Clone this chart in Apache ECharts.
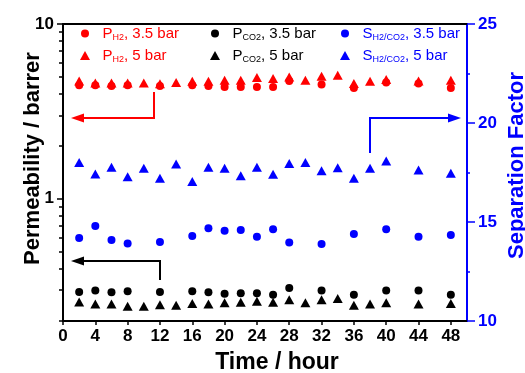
<!DOCTYPE html>
<html>
<head>
<meta charset="utf-8">
<script src="https://cdn.jsdelivr.net/npm/echarts@6/dist/echarts.min.js"></script>
<style>
  html, body { margin: 0; padding: 0; background: #fff; }
  #main { width: 525px; height: 373px; }
</style>
</head>
<body>
<div id="main"></div>
<script>
// time points (hours)
const timesLow = [2, 4, 6, 8, 12, 16, 18, 20, 22, 24, 26, 28, 32, 36, 40, 44, 48];
const timesHigh = [2, 4, 6, 8, 10, 12, 14, 16, 18, 20, 22, 24, 26, 28, 30, 32, 34, 36, 38, 40, 44, 48];

// permeability, barrer
const pH2Low = [4.46, 4.46, 4.42, 4.46, 4.42, 4.46, 4.42, 4.36, 4.36, 4.36, 4.36, 4.72, 4.50, 4.30, 4.62, 4.56, 4.30];
const pH2High = [4.72, 4.60, 4.60, 4.60, 4.60, 4.55, 4.62, 4.70, 4.70, 4.77, 4.77, 4.94, 4.87, 4.98, 4.77, 5.02, 5.09, 4.56, 4.70, 4.81, 4.72, 4.77];
const pCO2Low = [0.293, 0.299, 0.292, 0.296, 0.293, 0.296, 0.292, 0.286, 0.288, 0.288, 0.283, 0.309, 0.299, 0.283, 0.299, 0.299, 0.283];
const pCO2High = [0.257, 0.250, 0.250, 0.243, 0.243, 0.248, 0.246, 0.252, 0.250, 0.254, 0.256, 0.259, 0.256, 0.265, 0.254, 0.265, 0.269, 0.246, 0.250, 0.254, 0.250, 0.252];

// separation factor
const sepLow = [14.19, 14.80, 14.09, 13.92, 13.99, 14.29, 14.68, 14.56, 14.60, 14.26, 14.63, 13.97, 13.89, 14.39, 14.63, 14.26, 14.34];
const sepHigh = [18.00, 17.42, 17.76, 17.29, 17.71, 17.21, 17.93, 17.04, 17.76, 17.71, 17.34, 17.76, 17.41, 17.96, 18.00, 17.59, 17.74, 17.21, 17.71, 18.08, 17.63, 17.46];

// axis ticks
const permLabels = [1, 10];
const permMinorTicks = [0.2, 0.3, 0.4, 0.5, 0.6, 0.7, 0.8, 0.9, 2, 3, 4, 5, 6, 7, 8, 9];

const RED = '#ff0000';
const BLUE = '#0000ff';
const BLACK = '#000000';
const FONT = '"Liberation Sans", Arial, sans-serif';

function pair(xs, ys) {
  return xs.map(function (x, i) { return [x, ys[i]]; });
}

// one legend per entry so the 2x3 layout lines up like the original
function legendFor(name, main, sub, tail, color, isTriangle, column, row) {
  const w = isTriangle ? 10 : 8;
  const h = isTriangle ? 9 : 8;
  const markerX = [85, 215, 345][column];
  const centerY = [35, 57][row];
  return {
    data: [name],
    left: markerX - w / 2,
    top: centerY - 9,
    padding: 0,
    itemWidth: w,
    itemHeight: h,
    selectedMode: false,
    formatter: function () {
      return '{g|}{m|' + main + '}{s|' + sub + '}{m|' + tail + '}';
    },
    textStyle: {
      rich: {
        g: { width: 12.5 - w / 2 },
        m: { fontSize: 15, color: color, lineHeight: 18, fontFamily: FONT },
        s: { fontSize: 9, color: color, lineHeight: 8, verticalAlign: 'bottom', fontFamily: FONT }
      }
    }
  };
}

const chart = echarts.init(document.getElementById('main'));

const option = {
  backgroundColor: '#ffffff',
  animation: false,
  textStyle: { fontFamily: FONT },
  grid: { left: 63, right: 58, top: 24, bottom: 52, outerBoundsMode: 'none', containLabel: false },
  legend: [
    legendFor('pH2Low', 'P', 'H2', ', 3.5 bar', RED, false, 0, 0),
    legendFor('pH2High', 'P', 'H2', ', 5 bar', RED, true, 0, 1),
    legendFor('pCO2Low', 'P', 'CO2', ', 3.5 bar', BLACK, false, 1, 0),
    legendFor('pCO2High', 'P', 'CO2', ', 5 bar', BLACK, true, 1, 1),
    legendFor('sepLow', 'S', 'H2/CO2', ', 3.5 bar', BLUE, false, 2, 0),
    legendFor('sepHigh', 'S', 'H2/CO2', ', 5 bar', BLUE, true, 2, 1)
  ],
  xAxis: [
    {
      type: 'value',
      min: 0,
      max: 50,
      interval: 4,
      name: 'Time / hour',
      nameLocation: 'middle',
      nameGap: 30,
      nameMoveOverlap: false,
      nameTextStyle: { fontSize: 23, fontWeight: 'bold', color: BLACK, padding: [0, 0, 0, 24] },
      axisLine: { lineStyle: { color: BLACK, width: 2 } },
      axisTick: { length: 4, lineStyle: { color: BLACK, width: 1.5 } },
      axisLabel: { fontSize: 17, fontWeight: 'bold', color: BLACK, margin: 7, showMaxLabel: false },
      splitLine: { show: false }
    },
    {
      type: 'value',
      position: 'top',
      min: 0,
      max: 50,
      axisLine: { show: true, lineStyle: { color: BLACK, width: 2 } },
      axisTick: { show: false },
      axisLabel: { show: false },
      splitLine: { show: false }
    }
  ],
  yAxis: [
    {
      type: 'log',
      logBase: 10,
      min: 0.2,
      max: 10,
      position: 'left',
      name: 'Permeability / barrer',
      nameLocation: 'middle',
      nameGap: 19,
      nameMoveOverlap: false,
      nameTextStyle: { fontSize: 22, fontWeight: 'bold', color: BLACK, padding: [0, 0, 0, 28] },
      axisLine: { show: true, lineStyle: { color: BLACK, width: 2 } },
      axisTick: { length: 6, customValues: permLabels, lineStyle: { color: BLACK, width: 1.5 } },
      axisLabel: { fontSize: 17, fontWeight: 'bold', color: BLACK, margin: 9, customValues: permLabels },
      splitLine: { show: false }
    },
    {
      type: 'log',
      logBase: 10,
      min: 0.2,
      max: 10,
      position: 'left',
      axisLine: { show: false },
      axisTick: { show: true, length: 4, customValues: permMinorTicks, lineStyle: { color: BLACK, width: 1.5 } },
      axisLabel: { show: false },
      splitLine: { show: false }
    },
    {
      type: 'value',
      min: 10,
      max: 25,
      interval: 5,
      position: 'right',
      name: 'Separation Factor',
      nameLocation: 'middle',
      nameGap: 39,
      nameMoveOverlap: false,
      nameTextStyle: { fontSize: 22, fontWeight: 'bold', color: BLUE, padding: [0, 0, 0, 14] },
      axisLine: { show: true, lineStyle: { color: BLUE, width: 2 } },
      axisTick: { length: 8, lineStyle: { color: BLUE, width: 1.5 } },
      minorTick: { show: true, splitNumber: 2, length: 3, lineStyle: { color: BLUE, width: 1.5 } },
      axisLabel: { fontSize: 17, fontWeight: 'bold', color: BLUE, margin: 11 },
      splitLine: { show: false }
    }
  ],
  series: [
    { name: 'pH2Low', type: 'scatter', yAxisIndex: 0, symbol: 'circle', symbolSize: 8,
      itemStyle: { color: RED, opacity: 1 }, data: pair(timesLow, pH2Low) },
    { name: 'pH2High', type: 'scatter', yAxisIndex: 0, symbol: 'triangle', symbolSize: [10, 9],
      itemStyle: { color: RED, opacity: 1 }, data: pair(timesHigh, pH2High) },
    { name: 'pCO2Low', type: 'scatter', yAxisIndex: 0, symbol: 'circle', symbolSize: 8,
      itemStyle: { color: BLACK, opacity: 1 }, data: pair(timesLow, pCO2Low) },
    { name: 'pCO2High', type: 'scatter', yAxisIndex: 0, symbol: 'triangle', symbolSize: [10, 9],
      itemStyle: { color: BLACK, opacity: 1 }, data: pair(timesHigh, pCO2High) },
    { name: 'sepLow', type: 'scatter', yAxisIndex: 2, symbol: 'circle', symbolSize: 8,
      itemStyle: { color: BLUE, opacity: 1 }, data: pair(timesLow, sepLow) },
    { name: 'sepHigh', type: 'scatter', yAxisIndex: 2, symbol: 'triangle', symbolSize: [10, 9],
      itemStyle: { color: BLUE, opacity: 1 }, data: pair(timesHigh, sepHigh) }
  ],
  graphic: [
    // red arrow -> left axis
    { type: 'polyline', shape: { points: [[154, 92], [154, 118], [82, 118]] },
      style: { stroke: RED, lineWidth: 2, fill: null } },
    { type: 'polygon', shape: { points: [[71, 118], [84, 113.5], [84, 122.5]] }, style: { fill: RED } },
    // blue arrow -> right axis
    { type: 'polyline', shape: { points: [[370, 153], [370, 118], [450, 118]] },
      style: { stroke: BLUE, lineWidth: 2, fill: null } },
    { type: 'polygon', shape: { points: [[461, 118], [448, 113.5], [448, 122.5]] }, style: { fill: BLUE } },
    // black arrow -> left axis
    { type: 'polyline', shape: { points: [[160, 280], [160, 261], [82, 261]] },
      style: { stroke: BLACK, lineWidth: 2, fill: null } },
    { type: 'polygon', shape: { points: [[71, 261], [84, 256.5], [84, 265.5]] }, style: { fill: BLACK } }
  ]
};

chart.setOption(option);
</script>
</body>
</html>
